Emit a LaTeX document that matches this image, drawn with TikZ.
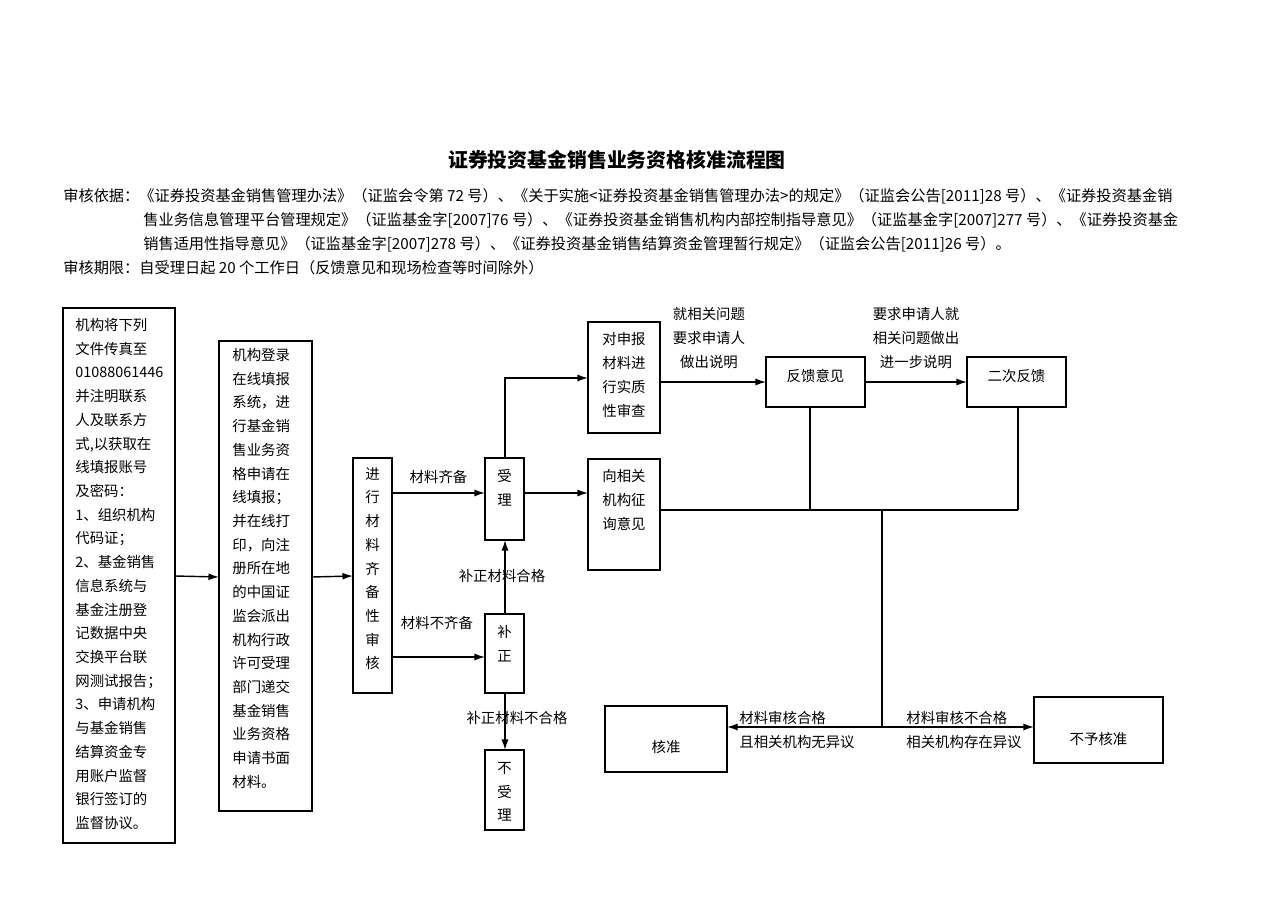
\documentclass[tikz,border=0pt]{standalone}
\usepackage{fontspec}
\setmainfont{Liberation Serif}
\newfontfamily\cjk{Noto Sans CJK SC}
\usetikzlibrary{arrows.meta}
\begin{document}
\begin{tikzpicture}[x=0.02cm,y=-0.02cm]

\tikzset{box/.style = {draw, line width=0.8pt}}
\tikzset{txt/.style = {font=\cjk\fontsize{8.2}{13.5}\selectfont, inner sep=0pt, align=left}}
\tikzset{head/.style = {font=\cjk\fontsize{8.66}{13.5}\selectfont, inner sep=0pt, anchor=west}}
\tikzset{edge/.style = {-{Latex[length=6pt,width=4pt]}, line width=0.8pt}}
\tikzset{line/.style = {line width=0.8pt}}
\useasboundingbox (0,0) rectangle (1280,905);
%header
\node[txt, font=\cjk\bfseries\fontsize{11.3}{14}\selectfont] (title) at (617,160) {证券投资基金销售业务资格核准流程图};
\node[head] (h1) at (63,196) {审核依据：《证券投资基金销售管理办法》（证监会令第 72 号）、《关于实施<证券投资基金销售管理办法>的规定》（证监会公告[2011]28 号）、《证券投资基金销};
\node[head] (h2) at (143,220) {售业务信息管理平台管理规定》（证监基金字[2007]76 号）、《证券投资基金销售机构内部控制指导意见》（证监基金字[2007]277 号）、《证券投资基金};
\node[head] (h3) at (143,244) {销售适用性指导意见》（证监基金字[2007]278 号）、《证券投资基金销售结算资金管理暂行规定》（证监会公告[2011]26 号）。};
\node[head] (h4) at (63,268) {审核期限：自受理日起 20 个工作日（反馈意见和现场检查等时间除外）};
%boxes
\draw[box] (63,308) rectangle (175,843);
\node[txt, anchor=north west] (fax) at (75,318) {机构将下列\\文件传真至\\01088061446\\并注明联系\\人及联系方\\式,以获取在\\线填报账号\\及密码：\\1、组织机构\\代码证；\\2、基金销售\\信息系统与\\基金注册登\\记数据中央\\交换平台联\\网测试报告；\\3、申请机构\\与基金销售\\结算资金专\\用账户监督\\银行签订的\\监督协议。};
\draw[box] (219,341) rectangle (312,811);
\node[txt, anchor=north west] (online) at (232,348) {机构登录\\在线填报\\系统，进\\行基金销\\售业务资\\格申请在\\线填报；\\并在线打\\印，向注\\册所在地\\的中国证\\监会派出\\机构行政\\许可受理\\部门递交\\基金销售\\业务资格\\申请书面\\材料。};
\draw[box] (353,458) rectangle (392,693);
\node[txt, align=center, anchor=north] (check) at (372.5,467) {进\\行\\材\\料\\齐\\备\\性\\审\\核};
\draw[box] (485,458) rectangle (524,540);
\node[txt, align=center] (accept) at (504.5,488) {受\\理};
\draw[box] (485,614) rectangle (524,693);
\node[txt, align=center] (fix) at (504.5,644) {补\\正};
\draw[box] (485,750) rectangle (524,830);
\node[txt, align=center] (reject) at (504.5,792) {不\\受\\理};
\draw[box] (588,322) rectangle (660,433);
\node[txt] (review) at (624,375) {对申报\\材料进\\行实质\\性审查};
\draw[box] (588,459) rectangle (660,570);
\node[txt] (consult) at (624,500) {向相关\\机构征\\询意见};
\draw[box] (766,357) rectangle (865,407);
\node[txt] (fb) at (815.5,376) {反馈意见};
\draw[box] (967,357) rectangle (1066,407);
\node[txt] (fb2) at (1016.5,376) {二次反馈};
\draw[box] (605,706) rectangle (727,772);
\node[txt] (ok) at (666,747) {核准};
\draw[box] (1034,697) rectangle (1163,763);
\node[txt] (no) at (1098.5,739) {不予核准};
%connectors
\draw[edge] (175,576) -- (219,577);
\draw[edge] (312,577) -- (353,576);
\draw[edge] (392,493) -- (485,493) node[midway, txt, above=5pt] {材料齐备};
\draw[edge] (392,657) -- (485,657) node[txt] at (437,623) {材料不齐备};
\draw[edge] (505,614) -- (505,540) node[txt] at (502,576) {补正材料合格};
\draw[edge] (505,693) -- (505,750) node[txt] at (517,718) {补正材料不合格};
\draw[edge] (505,458) -- (505,378) -- (588,378);
\draw[edge] (524,493) -- (588,493);
\draw[edge] (660,382) -- (766,382);
\node[txt, align=center] (ask) at (709,338) {就相关问题\\要求申请人\\做出说明};
\draw[edge] (865,382) -- (967,382);
\node[txt, align=center] (ask2) at (916,338) {要求申请人就\\相关问题做出\\进一步说明};
\draw[line] (810,407) -- (810,510);
\draw[line] (1018,407) -- (1018,510);
\draw[line] (660,510) -- (1018,510);
\draw[line] (882,510) -- (882,727);
\draw[edge] (882,727) -- (727,727);
\draw[edge] (882,727) -- (1034,727);
\node[txt] (okl) at (797,730) {材料审核合格\\且相关机构无异议};
\node[txt] (nol) at (964,730) {材料审核不合格\\相关机构存在异议};

\end{tikzpicture}
\end{document}
